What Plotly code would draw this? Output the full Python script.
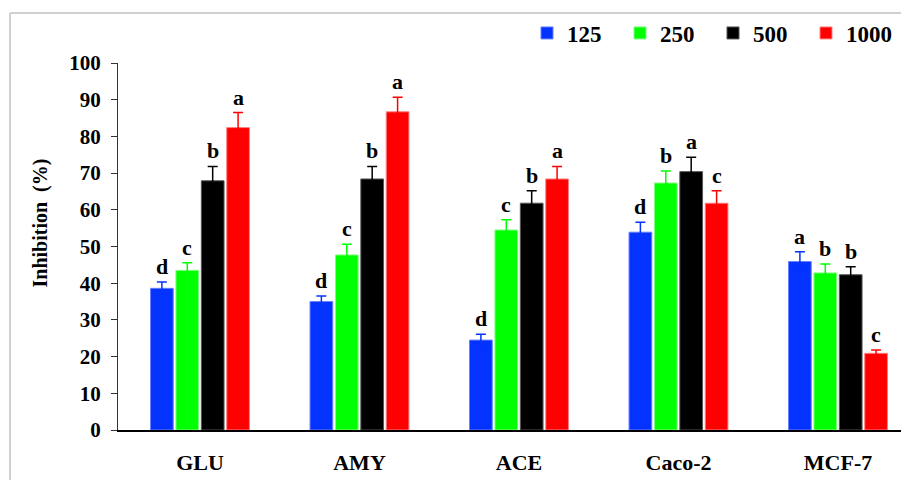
import plotly.graph_objects as go

# Samples and extract concentrations
categories = ["GLU", "AMY", "ACE", "Caco-2", "MCF-7"]
doses = ["125", "250", "500", "1000"]

# Mean inhibition (%) per concentration, one list per dose
inh_125 = [38.6, 35.0, 24.5, 53.9, 45.9]
inh_250 = [43.5, 47.7, 54.5, 67.3, 42.8]
inh_500 = [67.9, 68.4, 61.8, 70.4, 42.3]
inh_1000 = [82.4, 86.7, 68.4, 61.8, 20.9]

# Standard deviations
sd_125 = [1.7, 1.5, 1.6, 2.7, 2.7]
sd_250 = [2.1, 2.9, 2.8, 3.3, 2.4]
sd_500 = [3.9, 3.4, 3.4, 3.9, 2.2]
sd_1000 = [4.1, 4.0, 3.4, 3.4, 0.9]

# Significance letters
let_125 = ["d", "d", "d", "d", "a"]
let_250 = ["c", "c", "c", "b", "b"]
let_500 = ["b", "b", "b", "a", "b"]
let_1000 = ["a", "a", "a", "c", "c"]

y_ticks = [0, 10, 20, 30, 40, 50, 60, 70, 80, 90, 100]

means = [inh_125, inh_250, inh_500, inh_1000]
sds = [sd_125, sd_250, sd_500, sd_1000]
letters = [let_125, let_250, let_500, let_1000]
colors = ["#0433FF", "#00FF00", "#000000", "#FF0000"]
edge = ["#6680FF", "#80FF80", "#555555", "#FF8080"]

FONT = "Liberation Serif, Times New Roman, serif"
BARGAP = 0.363
GROUPGAP = 0.106

W, H = 901, 480
ML, MR, MT, MB = 118, 0, 63, 50
XR = [-0.514, 4.395]

fig = go.Figure()
for i, d in enumerate(doses):
    fig.add_trace(go.Bar(
        x=categories, y=means[i], name=d,
        marker=dict(color=colors[i], line=dict(color=edge[i], width=1)),
        error_y=dict(type="data", array=sds[i], symmetric=True,
                     color=colors[i], thickness=1.5, width=5),
    ))

# letters over each bar
slot = (1 - BARGAP) / len(doses)
ann = []
for i in range(len(doses)):
    for j in range(len(categories)):
        ann.append(dict(
            x=j + (i - 1.5) * slot, y=means[i][j] + sds[i][j],
            xref="x", yref="y", text=letters[i][j], showarrow=False,
            yanchor="bottom", yshift=1,
            font=dict(family=FONT, size=22, color="black", weight="bold"),
        ))

pw, ph = W - ML - MR, H - MT - MB

# y-axis title
ann.append(dict(
    x=-78 / pw, y=0.5 + 23 / ph, xref="paper", yref="paper",
    text="Inhibition  (%)", textangle=-90, showarrow=False,
    xanchor="center", yanchor="middle",
    font=dict(family=FONT, size=20, color="black", weight="bold"),
))

frame_x = (10 - ML) / pw
frame_y = (H - MB - 13) / ph

fig.update_layout(
    width=W, height=H,
    margin=dict(l=ML, r=MR, t=MT, b=MB, pad=0, autoexpand=False),
    paper_bgcolor="white", plot_bgcolor="white",
    barmode="group", bargap=BARGAP, bargroupgap=GROUPGAP,
    showlegend=True,
    legend=dict(
        orientation="h", x=(527 - ML) / pw, y=(H - MB - 33) / ph,
        xanchor="left", yanchor="middle",
        font=dict(family=FONT, size=23, color="black", weight="bold"),
        entrywidth=48, entrywidthmode="pixels",
        itemwidth=30, bgcolor="rgba(0,0,0,0)", traceorder="normal",
    ),
    xaxis=dict(
        range=XR, showgrid=False, zeroline=False,
        showline=True, linecolor="black", linewidth=2,
        ticks="", tickfont=dict(family=FONT, size=22, color="black", weight="bold"),
        ticklabelstandoff=12,
    ),
    yaxis=dict(
        range=[0, 100], tickvals=y_ticks, showgrid=False, zeroline=False,
        showline=True, linecolor="#333333", linewidth=1,
        ticks="outside", ticklen=6, tickcolor="#333333",
        tickfont=dict(family=FONT, size=21, color="black", weight="bold"),
        ticklabelstandoff=6,
    ),
    annotations=ann,
    shapes=[
        dict(type="line", xref="paper", yref="paper", x0=frame_x, x1=frame_x,
             y0=-1, y1=frame_y, line=dict(color="#D0D0D0", width=2)),
        dict(type="line", xref="paper", yref="paper", x0=frame_x, x1=1.2,
             y0=frame_y, y1=frame_y, line=dict(color="#D0D0D0", width=2)),
    ],
)

fig.write_html("out.html")
